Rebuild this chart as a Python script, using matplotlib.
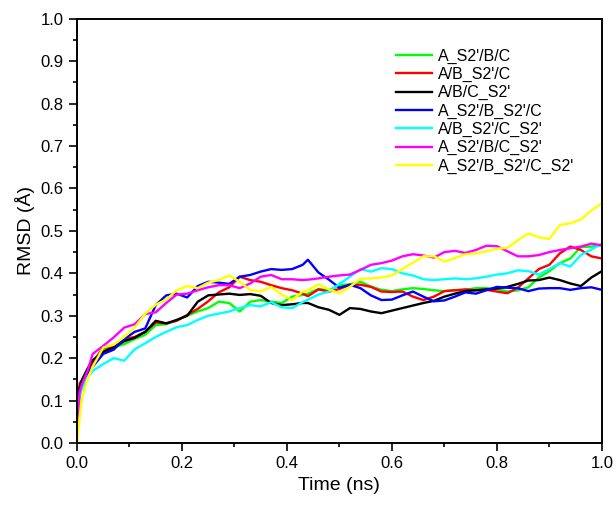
import matplotlib
matplotlib.use("Agg")
import matplotlib.pyplot as plt
from matplotlib.ticker import MultipleLocator

plt.rcParams['font.family'] = ['Liberation Sans', 'DejaVu Sans']

# time axis (ns)
time = [0.0, 0.005, 0.01, 0.02, 0.03, 0.05, 0.07, 0.09, 0.11, 0.13, 0.15, 0.17, 0.19,
        0.21, 0.23, 0.25, 0.27, 0.29, 0.31, 0.33, 0.35, 0.37, 0.39, 0.41, 0.43, 0.44,
        0.46, 0.48, 0.50, 0.52, 0.54, 0.56, 0.58, 0.60, 0.62, 0.64, 0.66, 0.68, 0.70,
        0.72, 0.74, 0.76, 0.78, 0.80, 0.82, 0.84, 0.86, 0.88, 0.90, 0.92, 0.94, 0.96,
        0.98, 1.0]

# RMSD values (Å) for each system
green = [0.03, 0.12, 0.14, 0.165, 0.185, 0.22, 0.225, 0.233, 0.245, 0.255, 0.278, 0.28, 0.29,
         0.30, 0.31, 0.318, 0.333, 0.33, 0.31, 0.333, 0.337, 0.333, 0.33, 0.345, 0.349, 0.352,
         0.363, 0.36, 0.372, 0.374, 0.38, 0.369, 0.361, 0.358, 0.362, 0.365, 0.363, 0.36, 0.358,
         0.36, 0.361, 0.365, 0.365, 0.363, 0.357, 0.36, 0.367, 0.39, 0.405, 0.424, 0.435, 0.462,
         0.463, 0.466]
red = [0.05, 0.14, 0.15, 0.17, 0.19, 0.225, 0.225, 0.245, 0.25, 0.262, 0.284, 0.282, 0.288,
       0.302, 0.316, 0.334, 0.355, 0.367, 0.392, 0.384, 0.38, 0.372, 0.365, 0.36, 0.352, 0.346,
       0.362, 0.357, 0.363, 0.373, 0.373, 0.368, 0.357, 0.356, 0.357, 0.345, 0.337, 0.345, 0.358,
       0.36, 0.362, 0.36, 0.361, 0.357, 0.353, 0.366, 0.388, 0.41, 0.42, 0.447, 0.463, 0.455,
       0.44, 0.435]
black = [0.04, 0.13, 0.15, 0.175, 0.195, 0.215, 0.225, 0.24, 0.248, 0.262, 0.288, 0.282, 0.29,
         0.30, 0.333, 0.348, 0.35, 0.352, 0.349, 0.351, 0.347, 0.33, 0.325, 0.327, 0.33, 0.33,
         0.32, 0.314, 0.302, 0.318, 0.316, 0.31, 0.306, 0.312, 0.318, 0.324, 0.33, 0.335, 0.345,
         0.352, 0.358, 0.36, 0.362, 0.364, 0.368, 0.375, 0.383, 0.384, 0.39, 0.384, 0.376, 0.37,
         0.39, 0.405]
blue = [0.03, 0.12, 0.14, 0.165, 0.18, 0.21, 0.22, 0.245, 0.262, 0.27, 0.325, 0.348, 0.352,
        0.343, 0.37, 0.38, 0.378, 0.375, 0.392, 0.396, 0.404, 0.41, 0.408, 0.41, 0.42, 0.432,
        0.402, 0.385, 0.366, 0.373, 0.365, 0.348, 0.337, 0.338, 0.348, 0.357, 0.345, 0.334, 0.336,
        0.345, 0.355, 0.352, 0.36, 0.368, 0.366, 0.365, 0.358, 0.364, 0.365, 0.365, 0.361, 0.365,
        0.367, 0.361]
cyan = [0.03, 0.11, 0.13, 0.155, 0.17, 0.186, 0.2, 0.194, 0.221, 0.235, 0.25, 0.262, 0.273,
        0.278, 0.29, 0.30, 0.305, 0.31, 0.318, 0.325, 0.322, 0.332, 0.32, 0.318, 0.332, 0.338,
        0.35, 0.357, 0.375, 0.392, 0.41, 0.404, 0.412, 0.41, 0.40, 0.395, 0.386, 0.384, 0.386,
        0.388, 0.386, 0.388, 0.392, 0.397, 0.40, 0.407, 0.405, 0.397, 0.41, 0.424, 0.416, 0.443,
        0.456, 0.47]
magenta = [0.04, 0.12, 0.14, 0.17, 0.21, 0.229, 0.249, 0.272, 0.28, 0.304, 0.308, 0.33, 0.35,
           0.352, 0.36, 0.367, 0.372, 0.372, 0.365, 0.376, 0.392, 0.396, 0.386, 0.386, 0.384, 0.385,
           0.388, 0.392, 0.395, 0.397, 0.408, 0.42, 0.424, 0.43, 0.44, 0.445, 0.442, 0.437, 0.45,
           0.453, 0.448, 0.455, 0.465, 0.464, 0.452, 0.44, 0.44, 0.443, 0.45, 0.455, 0.459, 0.463,
           0.47, 0.466]
yellow = [0.0, 0.06, 0.11, 0.15, 0.18, 0.225, 0.232, 0.25, 0.272, 0.305, 0.326, 0.338, 0.36,
          0.37, 0.365, 0.378, 0.384, 0.395, 0.38, 0.361, 0.357, 0.368, 0.35, 0.337, 0.357, 0.36,
          0.374, 0.362, 0.353, 0.368, 0.387, 0.388, 0.39, 0.395, 0.41, 0.425, 0.44, 0.44, 0.428,
          0.436, 0.445, 0.447, 0.452, 0.458, 0.46, 0.478, 0.494, 0.485, 0.481, 0.514, 0.518, 0.527,
          0.548, 0.565]

series = [
    ("A_S2'/B/C", green, "#00ff00"),
    ("A/B_S2'/C", red, "#ff0000"),
    ("A/B/C_S2'", black, "#000000"),
    ("A_S2'/B_S2'/C", blue, "#0000ff"),
    ("A/B_S2'/C_S2'", cyan, "#00ffff"),
    ("A_S2'/B/C_S2'", magenta, "#ff00ff"),
    ("A_S2'/B_S2'/C_S2'", yellow, "#ffff00"),
]

fig = plt.figure(figsize=(6.16, 5.08), dpi=100)
ax = fig.add_axes([0.125, 0.128, 0.852, 0.835])

for name, vals, col in series:
    ax.plot(time, vals, color=col, lw=1.7, label=name)

ax.set_xlim(0, 1.0)
ax.set_ylim(0, 1.0)
ax.xaxis.set_major_locator(MultipleLocator(0.2))
ax.xaxis.set_minor_locator(MultipleLocator(0.1))
ax.yaxis.set_major_locator(MultipleLocator(0.1))
ax.yaxis.set_minor_locator(MultipleLocator(0.05))
ax.tick_params(which='major', direction='out', length=6, width=1.2, labelsize=12)
ax.tick_params(which='minor', direction='out', length=3, width=1.2)
ax.xaxis.set_major_formatter(plt.FormatStrFormatter('%.1f'))
ax.yaxis.set_major_formatter(plt.FormatStrFormatter('%.1f'))
for sp in ax.spines.values():
    sp.set_linewidth(1.4)

ax.set_xlabel('Time (ns)', fontsize=14)
ax.set_ylabel('RMSD (Å)', fontsize=14)

ax.legend(loc='upper left', bbox_to_anchor=(0.595, 0.945), frameon=False, fontsize=11.5,
          handlelength=2.3, handletextpad=0.35, labelspacing=0.2, borderaxespad=0)

fig.savefig('out.png', dpi=100)
